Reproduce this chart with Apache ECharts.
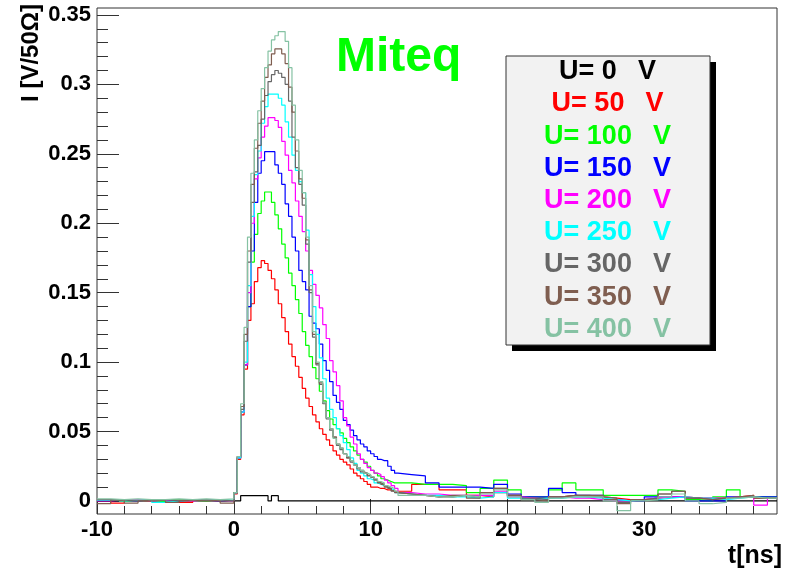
<!DOCTYPE html>
<html>
<head>
<meta charset="utf-8">
<script src="https://cdn.jsdelivr.net/npm/echarts@6/dist/echarts.min.js"></script>
<style>
  html, body { margin: 0; padding: 0; background: #ffffff; }
  #chart { width: 786px; height: 572px; }
</style>
</head>
<body>
<div id="chart"></div>
<script>
// Bias voltages of the recorded pulses and their line colours
const voltages = [0, 50, 100, 150, 200, 250, 300, 350, 400];
const seriesColors = ['#000000', '#ff0000', '#00ff00', '#0000ff', '#ff00ff',
                      '#00ffff', '#666666', '#7f5e50', '#85c2a3'];

// Bin left edges in ns: coarse baseline, fine pulse region, coarse tail
const baseT = [-10, -9, -8, -7, -6, -5, -4, -3, -2, -1];
const pulseT = [];
for (let k = 0; k < 48; k++) pulseT.push(k * 0.25);
const tailT = [12, 13, 14, 15, 16, 17, 18, 19, 20, 21, 22, 23, 24, 25, 26, 27,
               28, 29, 30, 31, 32, 33, 34, 35, 36, 37, 38, 39];
const tEnd = 39.7;

// Current I [V/50 Ohm] before the pulse (one row per voltage)
const baseline = [
  [0, 0, 0, 0, 0, 0, 0, 0, 0, 0],
  [0.0005, -0.0015, 0.0005, 0.0, 0.001, 0.0005, -0.001, 0.0005, 0.0, 0.0005],
  [0.001, 0.0, 0.0005, 0.0005, -0.0005, 0.001, 0.0005, 0.0, 0.001, 0.0],
  [0.0005, 0.0005, 0.0, 0.001, 0.0005, 0.0, 0.001, 0.0005, 0.0, 0.0005],
  [0.0, 0.0005, 0.001, 0.0, 0.0005, 0.0005, 0.0, 0.001, 0.0005, 0.0],
  [0.0005, 0.0, 0.0005, 0.001, -0.001, 0.0, 0.0005, 0.0005, 0.001, 0.0005],
  [0.001, 0.0005, 0.0, 0.0005, 0.001, 0.0, 0.0005, 0.001, 0.0, 0.0005],
  [-0.002, 0.0005, -0.0015, 0.0, 0.0005, -0.001, 0.0005, 0.0, 0.0005, -0.0015],
  [0.0015, 0.001, 0.0015, 0.001, 0.001, 0.0015, 0.001, 0.0015, 0.001, 0.0015]
];

// Pulse region, 0.25 ns bins from 0 to 12 ns
const pulse = [
  [0, 0, 0.0038, 0.0038, 0.0038, 0.0038, 0.0038, 0.0038, 0.0038, 0.0038, 0, 0.0038, 0.0038,
   0, 0, 0, 0, 0, 0, 0, 0, 0, 0, 0, 0, 0, 0, 0, 0, 0, 0, 0, 0, 0, 0, 0, 0, 0, 0, 0, 0, 0, 0, 0, 0, 0, 0, 0],
  [0.005, 0.030, 0.062, 0.095, 0.130, 0.142, 0.158, 0.168, 0.173, 0.171, 0.166, 0.160, 0.152, 0.142, 0.132, 0.122,
   0.113, 0.104, 0.097, 0.089, 0.081, 0.074, 0.068, 0.062, 0.057, 0.052, 0.048, 0.044, 0.040, 0.036, 0.033, 0.030,
   0.028, 0.026, 0.023, 0.020, 0.018, 0.016, 0.014, 0.012, 0.010, 0.010, 0.009, 0.009, 0.008, 0.008, 0.007, 0.007],
  [0.006, 0.031, 0.064, 0.098, 0.140, 0.172, 0.192, 0.207, 0.216, 0.2225, 0.2225, 0.215, 0.206, 0.196, 0.185, 0.175,
   0.164, 0.155, 0.145, 0.135, 0.122, 0.112, 0.104, 0.096, 0.088, 0.079, 0.072, 0.065, 0.059, 0.055, 0.052, 0.049,
   0.045, 0.042, 0.039, 0.036, 0.033, 0.030, 0.028, 0.025, 0.022, 0.020, 0.018, 0.016, 0.015, 0.014, 0.013, 0.013],
  [0.006, 0.031, 0.064, 0.098, 0.140, 0.180, 0.215, 0.236, 0.245, 0.2515, 0.2515, 0.2515, 0.242, 0.236, 0.228, 0.214,
   0.205, 0.190, 0.180, 0.166, 0.158, 0.152, 0.133, 0.128, 0.124, 0.113, 0.101, 0.094, 0.086, 0.076, 0.071, 0.066,
   0.058, 0.055, 0.051, 0.047, 0.044, 0.041, 0.039, 0.036, 0.034, 0.032, 0.030, 0.029, 0.029, 0.025, 0.022, 0.020],
  [0.006, 0.031, 0.064, 0.098, 0.150, 0.200, 0.232, 0.247, 0.262, 0.270, 0.276, 0.276, 0.274, 0.269, 0.259, 0.249,
   0.238, 0.229, 0.216, 0.205, 0.194, 0.180, 0.166, 0.156, 0.148, 0.139, 0.127, 0.117, 0.101, 0.093, 0.083, 0.072,
   0.060, 0.054, 0.046, 0.041, 0.034, 0.030, 0.027, 0.024, 0.022, 0.020, 0.019, 0.0175, 0.015, 0.013, 0.011, 0.009],
  [0.006, 0.031, 0.064, 0.100, 0.155, 0.205, 0.235, 0.252, 0.272, 0.284, 0.293, 0.293, 0.293, 0.290, 0.285, 0.273,
   0.262, 0.249, 0.238, 0.230, 0.222, 0.195, 0.163, 0.140, 0.120, 0.103, 0.088, 0.074, 0.066, 0.060, 0.052, 0.047,
   0.042, 0.037, 0.031, 0.027, 0.022, 0.020, 0.018, 0.016, 0.015, 0.013, 0.012, 0.011, 0.010, 0.009, 0.008, 0.006],
  [0.006, 0.032, 0.066, 0.115, 0.172, 0.215, 0.237, 0.256, 0.275, 0.292, 0.302, 0.307, 0.310, 0.308, 0.305, 0.300,
   0.288, 0.262, 0.240, 0.228, 0.213, 0.185, 0.150, 0.118, 0.098, 0.084, 0.070, 0.059, 0.051, 0.046, 0.040, 0.037,
   0.034, 0.031, 0.028, 0.026, 0.023, 0.021, 0.020, 0.018, 0.017, 0.015, 0.013, 0.012, 0.010, 0.009, 0.007, 0.006],
  [0.006, 0.032, 0.068, 0.120, 0.180, 0.228, 0.254, 0.272, 0.288, 0.305, 0.314, 0.322, 0.3255, 0.3255, 0.322, 0.315,
   0.298, 0.280, 0.252, 0.232, 0.218, 0.188, 0.152, 0.120, 0.099, 0.085, 0.071, 0.060, 0.052, 0.046, 0.041, 0.038,
   0.034, 0.031, 0.029, 0.026, 0.024, 0.022, 0.020, 0.0185, 0.017, 0.0155, 0.0135, 0.012, 0.0105, 0.009, 0.0075, 0.006],
  [0.006, 0.032, 0.070, 0.125, 0.190, 0.236, 0.260, 0.281, 0.297, 0.312, 0.324, 0.332, 0.335, 0.338, 0.338, 0.331,
   0.312, 0.285, 0.260, 0.238, 0.222, 0.190, 0.155, 0.122, 0.100, 0.086, 0.071, 0.060, 0.052, 0.045, 0.041, 0.038,
   0.034, 0.032, 0.029, 0.026, 0.024, 0.022, 0.020, 0.019, 0.0175, 0.016, 0.014, 0.013, 0.011, 0.010, 0.009, 0.007]
];

// Tail after the pulse, 1 ns bins from 12 ns
const tail = [
  [0, 0, 0, 0, 0, 0, 0, 0, 0, 0, 0, 0, 0, 0, 0, 0, 0, 0, 0, 0, 0, 0, 0, 0, 0, 0, 0, 0],
  [0.007, 0.012, 0.012, 0.008, 0.008, 0.004, 0.003, 0.006, 0.004, 0.002, 0.002, 0.003, 0.004, 0.003,
   0.003, 0.002, 0.001, 0.001, 0.002, 0.003, 0.003, 0.002, 0.002, 0.002, 0.003, 0.004, 0.002, 0.002],
  [0.013, 0.012, 0.012, 0.012, 0.011, 0.006, 0.009, 0.015, 0.008, 0.003, 0.003, 0.008, 0.013, 0.008,
   0.008, 0.004, 0.004, 0.004, 0.004, 0.008, 0.007, 0.001, 0.0, 0.003, 0.008, 0.003, 0.003, 0.003],
  [0.019, 0.018, 0.013, 0.010, 0.010, 0.010, 0.009, 0.012, 0.005, 0.003, 0.003, 0.009, 0.006, 0.004,
   0.004, 0.001, 0.0, 0.0, 0.003, 0.003, 0.003, 0.0, 0.0, 0.0, 0.003, 0.003, 0.003, 0.003],
  [0.006, 0.005, 0.005, 0.004, 0.004, 0.004, 0.004, 0.007, 0.003, 0.002, 0.001, 0.003, 0.002, 0.002,
   0.001, 0.0, 0.0, 0.001, 0.002, 0.003, 0.003, 0.002, 0.002, 0.002, 0.003, 0.003, -0.003, 0.002],
  [0.005, 0.004, 0.004, 0.003, 0.003, 0.002, 0.003, 0.006, 0.002, 0.001, 0.002, 0.002, 0.003, 0.003,
   0.002, 0.001, 0.0, 0.001, 0.001, 0.002, 0.003, 0.002, 0.002, 0.001, 0.002, 0.003, 0.002, 0.002],
  [0.005, 0.004, 0.003, 0.003, 0.004, 0.003, 0.006, 0.009, 0.004, 0.002, 0.001, 0.003, 0.004, 0.004,
   0.003, 0.002, -0.001, 0.001, 0.002, 0.005, 0.007, 0.002, 0.001, 0.002, 0.003, 0.003, 0.002, 0.002],
  [0.005, 0.004, 0.003, 0.004, 0.004, 0.002, 0.006, 0.009, 0.004, 0.001, 0.0, 0.003, 0.004, 0.004,
   0.004, 0.001, -0.002, 0.001, 0.001, 0.005, 0.007, 0.002, 0.001, 0.002, 0.003, 0.004, 0.002, 0.002],
  [0.004, 0.004, 0.003, 0.003, 0.004, 0.003, 0.005, 0.008, 0.003, 0.001, -0.001, 0.002, 0.003, 0.003,
   0.003, 0.0, -0.007, 0.0, 0.001, 0.003, 0.005, 0.0, -0.002, -0.001, 0.002, 0.003, 0.002, 0.002]
];

// Axis ticks
const xTickValues = [-10, 0, 10, 20, 30];
const xMinorValues = [-8, -6, -4, -2, 2, 4, 6, 8, 12, 14, 16, 18, 22, 24, 26, 28, 32, 34, 36, 38];
const yTickValues = [0, 0.05, 0.1, 0.15, 0.2, 0.25, 0.3, 0.35];
const yMinorValues = [0.01, 0.02, 0.03, 0.04, 0.06, 0.07, 0.08, 0.09, 0.11, 0.12, 0.13, 0.14,
                      0.16, 0.17, 0.18, 0.19, 0.21, 0.22, 0.23, 0.24, 0.26, 0.27, 0.28, 0.29,
                      0.31, 0.32, 0.33, 0.34];
const xRange = [-10, tEnd];
const yRange = [-0.0094, 0.355];

const FONT = '"Liberation Sans", Arial, Helvetica, sans-serif';
const INK = '#333333';

function histogramPoints(i) {
  const pts = [];
  baseT.forEach((t, k) => pts.push([t, baseline[i][k]]));
  pulseT.forEach((t, k) => pts.push([t, pulse[i][k]]));
  tailT.forEach((t, k) => pts.push([t, tail[i][k]]));
  pts.push([tEnd, tail[i][tail[i].length - 1]]);
  return pts;
}

const series = voltages.map((v, i) => ({
  name: 'U= ' + v + '  V',
  type: 'line',
  step: 'end',
  xAxisIndex: 0,
  yAxisIndex: 0,
  showSymbol: false,
  symbol: 'none',
  silent: true,
  lineStyle: { color: seriesColors[i], width: 1.2 },
  data: histogramPoints(i)
}));

// Legend box with drop shadow, one coloured line of text per voltage
const legendLeft = 506, legendTop = 56, legendW = 204, legendH = 289;
const legendChildren = [
  { type: 'rect', shape: { x: legendLeft + 6, y: legendTop + 6, width: legendW, height: legendH },
    style: { fill: '#000000' } },
  { type: 'rect', shape: { x: legendLeft, y: legendTop, width: legendW, height: legendH },
    style: { fill: '#f2f2f2', stroke: INK, lineWidth: 1 } }
];
voltages.forEach((v, i) => {
  legendChildren.push({
    type: 'text',
    x: 607.5,
    y: 71.7 + 32.2 * i,
    style: {
      text: '{a|U= ' + v + '}{g| }{a|V}',
      align: 'center',
      verticalAlign: 'middle',
      rich: {
        a: { fontSize: 27, fontWeight: 'bold', fontFamily: FONT, fill: seriesColors[i] },
        g: { width: 21, fontSize: 27, fontFamily: FONT }
      }
    }
  });
});

function tickAxis(extra) {
  return Object.assign({
    type: 'value',
    axisLine: { show: false, onZero: false },
    splitLine: { show: false }
  }, extra);
}

const labelFont = { color: '#000', fontSize: 22, fontWeight: 'bold', fontFamily: FONT };

const chart = echarts.init(document.getElementById('chart'), null, { renderer: 'canvas' });
chart.setOption({
  animation: false,
  backgroundColor: '#ffffff',
  grid: { left: 97, right: 9, top: 8, bottom: 58, show: true, borderColor: INK, borderWidth: 1,
          backgroundColor: 'transparent' },
  xAxis: [
    tickAxis({
      min: xRange[0], max: xRange[1], position: 'bottom',
      axisTick: { show: true, inside: true, length: 15, customValues: xTickValues,
                  lineStyle: { color: INK, width: 1 } },
      axisLabel: Object.assign({ show: true, customValues: xTickValues, margin: 5 }, labelFont)
    }),
    tickAxis({
      min: xRange[0], max: xRange[1], position: 'bottom',
      axisLabel: { show: false },
      axisTick: { show: true, inside: true, length: 8, customValues: xMinorValues,
                  lineStyle: { color: INK, width: 1 } }
    })
  ],
  yAxis: [
    tickAxis({
      min: yRange[0], max: yRange[1], position: 'left',
      axisTick: { show: true, inside: true, length: 22, customValues: yTickValues,
                  lineStyle: { color: INK, width: 1 } },
      axisLabel: Object.assign({ show: true, customValues: yTickValues, margin: 6,
                                 formatter: v => String(v) }, labelFont)
    }),
    tickAxis({
      min: yRange[0], max: yRange[1], position: 'left',
      axisLabel: { show: false },
      axisTick: { show: true, inside: true, length: 11, customValues: yMinorValues,
                  lineStyle: { color: INK, width: 1 } }
    })
  ],
  series: series,
  graphic: [
    { type: 'text', x: 336, y: 58,
      style: { text: 'Miteq', fill: '#00ff00', fontSize: 48, fontWeight: 'bold', fontFamily: FONT,
               align: 'left', verticalAlign: 'middle' } },
    { type: 'text', x: 782, y: 556,
      style: { text: 't[ns]', fill: '#000', fontSize: 25, fontWeight: 'bold', fontFamily: FONT,
               align: 'right', verticalAlign: 'middle' } },
    { type: 'text', x: 31, y: 4, rotation: Math.PI / 2,
      style: { text: 'I [V/50Ω]', fill: '#000', fontSize: 24, fontWeight: 'bold', fontFamily: FONT,
               align: 'right', verticalAlign: 'middle' } },
    { type: 'group', children: legendChildren }
  ]
});
</script>
</body>
</html>
